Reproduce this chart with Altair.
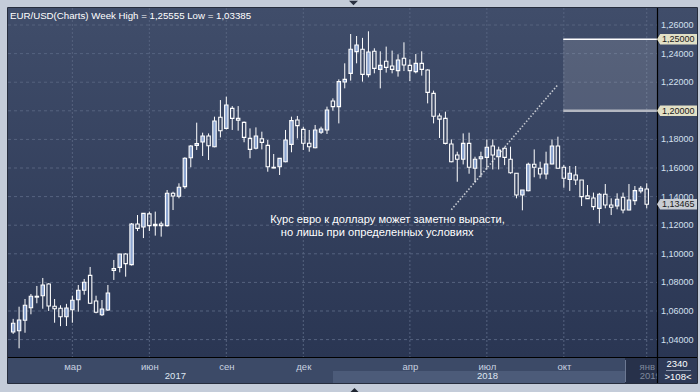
import altair as alt
import pandas as pd

# ---------------- data ----------------
opens = [1.0453, 1.0462, 1.0535, 1.0623, 1.0703, 1.0707, 1.0789, 1.0633, 1.0619, 1.0560,
         1.0609, 1.0679, 1.0745, 1.0849, 1.0670, 1.0574, 1.0607, 1.0896, 1.0905, 1.0999,
         1.0924, 1.1208, 1.1187, 1.1279, 1.1206, 1.1208, 1.1197, 1.1423, 1.1402, 1.1470,
         1.1672, 1.1758, 1.1782, 1.1824, 1.1749, 1.1955, 1.1877, 1.2017, 1.1947, 1.1919,
         1.1807, 1.1738, 1.1805, 1.1758, 1.1605, 1.1609, 1.1644, 1.1765, 1.1936, 1.1870,
         1.1773, 1.1742, 1.1850, 1.1866, 1.2069, 1.2029, 1.2201, 1.2262, 1.2414, 1.2430,
         1.2253, 1.2416, 1.2290, 1.2346, 1.2313, 1.2281, 1.2367, 1.2318, 1.2274, 1.2332,
         1.2285, 1.2122, 1.1964, 1.1947, 1.1768, 1.1691, 1.1661, 1.1772, 1.1598, 1.1665,
         1.1674, 1.1754, 1.1679, 1.1738, 1.1661, 1.1563, 1.1411, 1.1441, 1.1626, 1.1598,
         1.1558, 1.1628, 1.1754, 1.1605, 1.1520, 1.1551, 1.1516, 1.1405, 1.1390, 1.1318,
         1.1416, 1.1341, 1.1334, 1.1395, 1.1306, 1.1372, 1.1439, 1.1453]
highs = [1.0545, 1.0630, 1.0684, 1.0719, 1.0775, 1.0831, 1.0795, 1.0684, 1.0640, 1.0650,
         1.0707, 1.0782, 1.0824, 1.0908, 1.0707, 1.0677, 1.0782, 1.0957, 1.1000, 1.1005,
         1.1215, 1.1271, 1.1285, 1.1295, 1.1295, 1.1225, 1.1446, 1.1434, 1.1493, 1.1675,
         1.1760, 1.1917, 1.1847, 1.1842, 1.1959, 1.2075, 1.2099, 1.2033, 1.2033, 1.1925,
         1.1877, 1.1884, 1.1854, 1.1796, 1.1698, 1.1670, 1.1866, 1.1959, 1.1964, 1.1889,
         1.1866, 1.1901, 1.1889, 1.2029, 1.2087, 1.2220, 1.2332, 1.2537, 1.2523, 1.2510,
         1.2556, 1.2437, 1.2416, 1.2449, 1.2421, 1.2395, 1.2479, 1.2360, 1.2397, 1.2416,
         1.2290, 1.2141, 1.1982, 1.1994, 1.1800, 1.1714, 1.1842, 1.1847, 1.1679, 1.1714,
         1.1800, 1.1800, 1.1749, 1.1745, 1.1749, 1.1565, 1.1446, 1.1637, 1.1730, 1.1644,
         1.1714, 1.1800, 1.1819, 1.1621, 1.1614, 1.1614, 1.1516, 1.1481, 1.1428, 1.1426,
         1.1488, 1.1388, 1.1423, 1.1428, 1.1488, 1.1474, 1.1474, 1.1493]
lows = [1.0440, 1.0339, 1.0448, 1.0577, 1.0654, 1.0616, 1.0600, 1.0518, 1.0494, 1.0495,
        1.0518, 1.0595, 1.0714, 1.0650, 1.0584, 1.0565, 1.0600, 1.0817, 1.0870, 1.0840,
        1.0918, 1.1159, 1.1110, 1.1159, 1.1127, 1.1120, 1.1190, 1.1306, 1.1388, 1.1455,
        1.1605, 1.1726, 1.1684, 1.1656, 1.1745, 1.1814, 1.1870, 1.1866, 1.1861, 1.1780,
        1.1668, 1.1730, 1.1730, 1.1574, 1.1598, 1.1551, 1.1640, 1.1710, 1.1807, 1.1726,
        1.1714, 1.1738, 1.1838, 1.1838, 1.2001, 1.1912, 1.2157, 1.2211, 1.2332, 1.2204,
        1.2234, 1.2262, 1.2157, 1.2267, 1.2262, 1.2239, 1.2278, 1.2208, 1.2262, 1.2246,
        1.2052, 1.1912, 1.1810, 1.1765, 1.1640, 1.1504, 1.1625, 1.1560, 1.1500, 1.1535,
        1.1590, 1.1590, 1.1590, 1.1620, 1.1560, 1.1388, 1.1304, 1.1437, 1.1535, 1.1526,
        1.1521, 1.1626, 1.1596, 1.1462, 1.1440, 1.1481, 1.1334, 1.1384, 1.1306, 1.1213,
        1.1318, 1.1271, 1.1311, 1.1283, 1.1304, 1.1341, 1.1423, 1.1318]
closes = [1.0514, 1.0537, 1.0640, 1.0703, 1.0697, 1.0782, 1.0635, 1.0616, 1.0560, 1.0621,
          1.0675, 1.0745, 1.0801, 1.0654, 1.0591, 1.0614, 1.0726, 1.0884, 1.0999, 1.0931,
          1.1208, 1.1178, 1.1283, 1.1197, 1.1197, 1.1197, 1.1423, 1.1404, 1.1465, 1.1668,
          1.1754, 1.1771, 1.1824, 1.1756, 1.1929, 1.1861, 1.2041, 1.1947, 1.1935, 1.1814,
          1.1730, 1.1824, 1.1779, 1.1609, 1.1600, 1.1667, 1.1796, 1.1931, 1.1896, 1.1773,
          1.1749, 1.1866, 1.1873, 1.2006, 1.2029, 1.2204, 1.2220, 1.2430, 1.2460, 1.2255,
          1.2411, 1.2297, 1.2318, 1.2304, 1.2290, 1.2355, 1.2320, 1.2281, 1.2332, 1.2290,
          1.2129, 1.1962, 1.1942, 1.1772, 1.1644, 1.1661, 1.1772, 1.1605, 1.1661, 1.1679,
          1.1745, 1.1691, 1.1726, 1.1674, 1.1567, 1.1411, 1.1446, 1.1626, 1.1605, 1.1558,
          1.1628, 1.1754, 1.1598, 1.1528, 1.1563, 1.1516, 1.1400, 1.1386, 1.1330, 1.1416,
          1.1341, 1.1325, 1.1381, 1.1306, 1.1376, 1.1442, 1.1458, 1.13465]

month_idx = [10, 23, 36, 49, 67, 80, 93, 107]
month_lbl = ["мар", "июн", "сен", "дек", "апр", "июл", "окт", "янв"]
year_pos = [27.4, 80.1, 107.6]
year_lbl = ["2017", "2018", "2019"]
y_ticks = [1.04, 1.06, 1.08, 1.10, 1.12, 1.14, 1.16, 1.18, 1.20, 1.22, 1.24, 1.26]
y_tick_lbl = ["1,04000", "1,06000", "1,08000", "1,10000", "1,12000", "1,14000",
              "1,16000", "1,18000", "1,20000", "1,22000", "1,24000", "1,26000"]
level_vals = [1.25, 1.20]
level_lbl = ["1,25000", "1,20000"]
last_close = 1.13465
last_lbl = "1,13465"
trend_x = [74.0, 92.0]
trend_y = [1.1308, 1.2183]
zone_x0 = [92.9]
note_lines = ["Курс евро к доллару может заметно вырасти,", "но лишь при определенных условиях"]
note_x = [43.4, 45.2]
note_y = [1.1218, 1.1125]
title_text = "EUR/USD(Charts) Week High = 1,25555 Low = 1,03385"
corner_lines = ["2340", ">108<"]

# ---------------- layout ----------------
W, H = 649, 349
FONT = "Liberation Sans"
xs = alt.Scale(domain=[-0.027, 107.89], nice=False, zero=False)
ys = alt.Scale(domain=[1.02783, 1.27189], nice=False, zero=False)
one = pd.DataFrame({"k": [0]})


def box(x0, x1, y0, y1, **kw):
    return alt.Chart(one).mark_rect(**kw).encode(
        x=alt.value(x0), x2=alt.value(x1), y=alt.value(y0), y2=alt.value(y1))


def ptext(txt, x, y, **kw):
    return alt.Chart(one).mark_text(text=txt, font=FONT, **kw).encode(
        x=alt.value(x), y=alt.value(y))


def Y(field):
    return alt.Y(field, scale=ys, axis=None)


df = pd.DataFrame({"i": list(range(len(opens))), "o": opens, "h": highs, "l": lows, "c": closes})
df["top"] = df[["o", "c"]].max(axis=1)
df["bot"] = df[["o", "c"]].min(axis=1)

# x axis (defined once, in the first layer that uses the x scale)
x_expr = " : ".join(f"datum.value == {m} ? '{l}'" for m, l in zip(month_idx, month_lbl)) + " : ''"
x_axis = alt.Axis(values=month_idx, labelExpr=x_expr, grid=False, ticks=False, tickSize=0,
                  domain=False, labelPadding=9, labelBaseline="middle", labelFontSize=9.5,
                  labelFont=FONT, labelOverlap=False, labelFlush=False, title=None, zindex=1,
                  labelColor={"condition": {"test": "datum.value > 100", "value": "#7e889c"},
                              "value": "#c9d2e0"})

axes_layer = alt.Chart(df).mark_point(opacity=0, size=1).encode(
    x=alt.X("i:Q", scale=xs, axis=x_axis), y=Y("h:Q"))

grad = alt.LinearGradient(
    gradient="linear",
    stops=[alt.GradientStop(offset=0, color="#404d6a"),
           alt.GradientStop(offset=1, color="#2a3653")],
    x1=0, x2=0, y1=0, y2=1)

bg_panel = alt.Chart(one).mark_rect(fill=grad).encode(
    x=alt.value(0), x2=alt.value(689), y=alt.value(0), y2=alt.value(H))
band = box(0, W, H, H + 26, fill="#3c4a67")
thumb = box(325, 617, H + 14, H + 26, fill="#4c5b79")
darkbox = box(617, W, H, H + 26, fill="#27314a")
sep = alt.Chart(one).mark_rule(color="#6c7892", strokeWidth=1).encode(
    x=alt.value(617.5), y=alt.value(H + 3), y2=alt.value(H + 25))
corner_box = box(W, 689, H, H + 26, fill="#2e3a57")

GRID = "#56637f"
ytick_df = pd.DataFrame({"v": y_ticks, "t": y_tick_lbl})
grid_h = alt.Chart(ytick_df).mark_rule(
    color=GRID, strokeDash=[3, 3], strokeWidth=1).encode(
    y=Y("v:Q"), x=alt.value(0), x2=alt.value(W))
grid_v = alt.Chart(pd.DataFrame({"m": month_idx})).mark_rule(
    color=GRID, strokeDash=[2, 2], strokeWidth=1).encode(
    x=alt.X("m:Q", scale=xs), y=alt.value(0), y2=alt.value(H))
y_labels = alt.Chart(ytick_df[~ytick_df["v"].isin(level_vals)]).mark_text(
    font=FONT, fontSize=9, align="left", baseline="middle", color="#d4e0f0").encode(
    y=Y("v:Q"), x=alt.value(W + 4), text="t:N")

zone_df = pd.DataFrame({"x0": zone_x0, "yt": [level_vals[0]], "yb": [level_vals[1]]})
zone = alt.Chart(zone_df).mark_rect(color="#ffffff", opacity=0.13).encode(
    x=alt.X("x0:Q", scale=xs), x2=alt.value(W), y=Y("yt:Q"), y2="yb:Q")
zone_top = alt.Chart(zone_df).mark_rule(color="#ffffff", strokeWidth=1.5).encode(
    x=alt.X("x0:Q", scale=xs), x2=alt.value(W), y=Y("yt:Q"))
zone_bot = alt.Chart(zone_df).mark_rule(color="#b4b8c2", strokeWidth=2.5).encode(
    x=alt.X("x0:Q", scale=xs), x2=alt.value(W), y=Y("yb:Q"))

trend = alt.Chart(pd.DataFrame({"x": trend_x, "y": trend_y})).mark_line(
    color="#c5c9d1", strokeDash=[1.5, 1.8], strokeWidth=1.6).encode(
    x=alt.X("x:Q", scale=xs), y=Y("y:Q"))

wick_up = alt.Chart(df).mark_rule(color="#ffffff", strokeWidth=1, clip=True).encode(
    x=alt.X("i:Q", scale=xs), y=Y("h:Q"), y2="top:Q")
wick_dn = alt.Chart(df).mark_rule(color="#ffffff", strokeWidth=1, clip=True).encode(
    x=alt.X("i:Q", scale=xs), y=Y("bot:Q"), y2="l:Q")
bodies = alt.Chart(df).mark_bar(size=3.4, stroke="#ffffff", strokeWidth=1.1, clip=True).encode(
    x=alt.X("i:Q", scale=xs), y=Y("bot:Q"), y2="top:Q",
    fill=alt.condition("datum.c >= datum.o", alt.value("#8ba4d0"), alt.value("transparent")))

years = alt.Chart(pd.DataFrame({"x": year_pos, "t": year_lbl})).mark_text(
    font=FONT, fontSize=9.5, baseline="alphabetic", align="center").encode(
    x=alt.X("x:Q", scale=xs), y=alt.value(H + 22), text="t:N",
    color=alt.condition("datum.x > 100", alt.value("#7e889c"), alt.value("#dfe6f0")))

vline = alt.Chart(one).mark_rule(color="#000000", strokeWidth=1.2).encode(
    x=alt.value(W + 0.5), y=alt.value(0), y2=alt.value(H + 26))
hline = alt.Chart(one).mark_rule(color="#000000", strokeWidth=1.2).encode(
    y=alt.value(H + 0.5), x=alt.value(0), x2=alt.value(689))

TAG = "M -1 0 L -0.84 -0.26 L 1 -0.26 L 1 0.26 L -0.84 0.26 Z"
lev_df = pd.DataFrame({"v": level_vals, "t": level_lbl})
last_df = pd.DataFrame({"v": [last_close], "t": [last_lbl]})
tag_lev = alt.Chart(lev_df).mark_point(shape=TAG, size=1600, filled=True, fill="#e2e0c6",
                                        opacity=1, strokeWidth=0).encode(
    x=alt.value(669), y=Y("v:Q"))
tag_last = alt.Chart(last_df).mark_point(shape=TAG, size=1600, filled=True, fill="#c8ccd3",
                                          opacity=1, strokeWidth=0).encode(
    x=alt.value(669), y=Y("v:Q"))
tag_txt = alt.Chart(pd.concat([lev_df, last_df])).mark_text(
    font=FONT, fontSize=9, align="left", baseline="middle", color="#1a1a1a").encode(
    x=alt.value(654), y=Y("v:Q"), text="t:N")

notes = alt.Chart(pd.DataFrame({"x": note_x, "y": note_y, "t": note_lines})).mark_text(
    font=FONT, fontSize=11.1, align="left", baseline="alphabetic", color="#ffffff").encode(
    x=alt.X("x:Q", scale=xs), y=Y("y:Q"), text="t:N")

title = ptext(title_text, 2, 11, fontSize=9.7, color="#ffffff", align="left", baseline="alphabetic")
c1 = ptext(corner_lines[0], 669, 355.5, fontSize=9.5, color="#ffffff", align="center", baseline="middle")
c2 = ptext(corner_lines[1], 670, 368.5, fontSize=9.5, color="#ffffff", align="center", baseline="middle")
cline = alt.Chart(one).mark_rule(color="#8a94aa", strokeWidth=1).encode(
    y=alt.value(362.5), x=alt.value(658), x2=alt.value(683))

frame = alt.Chart(one).mark_rect(fill="transparent", stroke="#262d3d", strokeWidth=1).encode(
    x=alt.value(-0.5), x2=alt.value(689.5), y=alt.value(-0.5), y2=alt.value(375.5))
tri_dn = alt.Chart(one).mark_point(shape="M -1 -0.5 L 1 -0.5 L 0 0.5 Z", size=81, filled=True,
                                    fill="#2a3141", opacity=1, strokeWidth=0).encode(
    x=alt.value(345.5), y=alt.value(-5))
tri_up = alt.Chart(one).mark_point(shape="M -1 0.5 L 1 0.5 L 0 -0.5 Z", size=64, filled=True,
                                    fill="#1e2430", opacity=1, strokeWidth=0).encode(
    x=alt.value(346.5), y=alt.value(382))

chart = alt.layer(
    axes_layer,
    bg_panel, band, thumb, darkbox, sep,
    grid_h, grid_v, zone, zone_top, zone_bot, trend,
    wick_up, wick_dn, bodies,
    years, corner_box, vline, hline, y_labels,
    tag_lev, tag_last, tag_txt, notes, title, c1, c2, cline, frame, tri_dn, tri_up,
).properties(
    width=W, height=H,
    padding={"left": 8, "top": 8, "right": 43, "bottom": 35},
    autosize=alt.AutoSizeParams(type="none"),
    background="#c4ccd9",
).configure_view(stroke=None).configure(font=FONT)

chart.save("out.html", embed_options={"renderer": "svg", "actions": False})
